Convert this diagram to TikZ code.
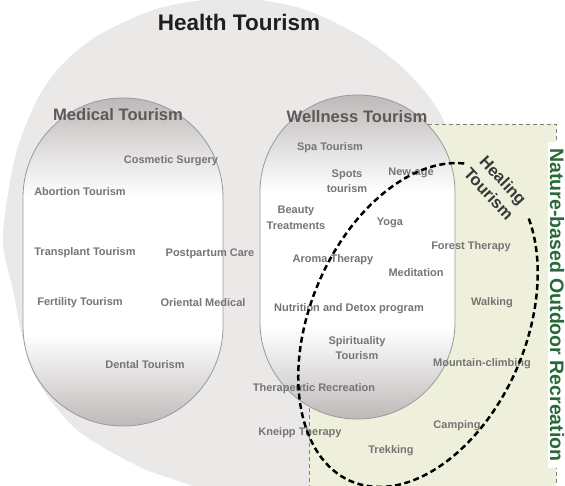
\documentclass[tikz,border=0pt]{standalone}
\usepackage{fontspec}
\setmainfont{Liberation Sans}
\definecolor{healthgray}{RGB}{235,233,232}
\definecolor{naturegreen}{RGB}{239,240,220}
\definecolor{capgray}{RGB}{190,185,185}
\definecolor{itemgray}{RGB}{118,116,116}
\definecolor{titlegray}{RGB}{92,89,89}
\definecolor{labelgreen}{RGB}{40,105,55}
\pgfdeclareverticalshading{capshade}{100bp}{color(0bp)=(capgray); color(25bp)=(capgray); color(39bp)=(white); color(60bp)=(white); color(75bp)=(capgray); color(100bp)=(capgray)}
\begin{document}
\begin{tikzpicture}[x=1pt,y=1pt,
  item/.style={font=\bfseries\fontsize{11}{15.5}\selectfont,text=itemgray,align=center,inner sep=0pt},
  group/.style={font=\bfseries\fontsize{16.6}{18}\selectfont,text=titlegray,inner sep=0pt},
  headline/.style={font=\bfseries\fontsize{22.5}{24}\selectfont,text=black!88,inner sep=0pt},
  capsule/.style={draw=gray!80,line width=0.8pt,shading=capshade},
  naturebox/.style={fill=naturegreen,draw=gray,line width=0.9pt,dash pattern=on 4pt off 3pt},
  healing/.style={draw=black,line width=2.5pt,dash pattern=on 6pt off 3.5pt},
  healinglabel/.style={font=\bfseries\fontsize{16.5}{19.5}\selectfont,text=black!78,align=center,inner sep=0pt},
  naturelabel/.style={font=\bfseries\fontsize{19.5}{20}\selectfont,text=labelgreen,fill=white,inner xsep=6.5pt,inner ysep=0pt,minimum height=18pt}]
\useasboundingbox[fill=white] (0,0) rectangle (565,486);
\fill[healthgray] plot[smooth cycle] coordinates {(232,488) (300,478) (360,450) (407,414) (443,367) (468,286) (475,196) (455,86) (400,6) (320,-29) (240,-19) (187,2) (140,19) (77,56) (37,106) (22,151) (13,196) (3,241) (7,286) (17,336) (37,386) (60,419) (97,450) (160,478)};
\filldraw[naturebox] (400,362) -- (556,362) -- (556,-4) -- (309,-4) -- (309,126) -- (400,126) -- cycle;
\draw[capsule,rounded corners=99.5pt] (23,60) rectangle (223,388);
\draw[capsule,rounded corners=97pt] (260,67) rectangle (455,391);

\node[headline] (health) at (239,464) {Health Tourism};
\node[group] (medical) at (118,371) {Medical Tourism};
\node[group] (wellness) at (357,369) {Wellness Tourism};

\node[item] (cosmetic) at (171,325) {Cosmetic Surgery};
\node[item] (abortion) at (80,294) {Abortion Tourism};
\node[item] (transplant) at (85,233) {Transplant Tourism};
\node[item] (postpartum) at (210,232) {Postpartum Care};
\node[item] (fertility) at (80,183) {Fertility Tourism};
\node[item] (oriental) at (203,183) {Oriental Medical};
\node[item] (dental) at (145,121) {Dental Tourism};

\node[item] (spa) at (330,338) {Spa Tourism};
\node[item] (spots) at (347,305) {Spots\\tourism};
\node[item] (newage) at (411,313) {New-age};
\node[item] (beauty) at (296,268) {Beauty\\Treatments};
\node[item] (yoga) at (390,263) {Yoga};
\node[item] (forest) at (471,239) {Forest Therapy};
\node[item] (aroma) at (333,226) {Aroma Therapy};
\node[item] (meditation) at (416,213) {Meditation};
\node[item] (nutrition) at (349,177) {Nutrition and Detox program};
\node[item] (walking) at (492,183) {Walking};
\node[item] (spirit) at (357,138) {Spirituality\\Tourism};
\node[item] (mountain) at (482,122) {Mountain-climbing};
\node[item] (therapeutic) at (314,97) {Therapeutic Recreation};
\node[item] (kneipp) at (300,53) {Kneipp Therapy};
\node[item] (camping) at (457,60) {Camping};
\node[item] (trekking) at (391,35) {Trekking};

\coordinate (hc) at (418,161);
\begin{scope}[shift={(hc)},rotate=66.8]
\draw[healing] (11.3:170 and 108) arc[start angle=11.3,end angle=327.5,x radius=170,y radius=108];
\end{scope}
\node[healinglabel,rotate=-47] (healingtxt) at (496,299) {Healing\\Tourism};
\node[naturelabel,rotate=-90] (nature) at (557,181) {Nature-based Outdoor Recreation};
\end{tikzpicture}
\end{document}
